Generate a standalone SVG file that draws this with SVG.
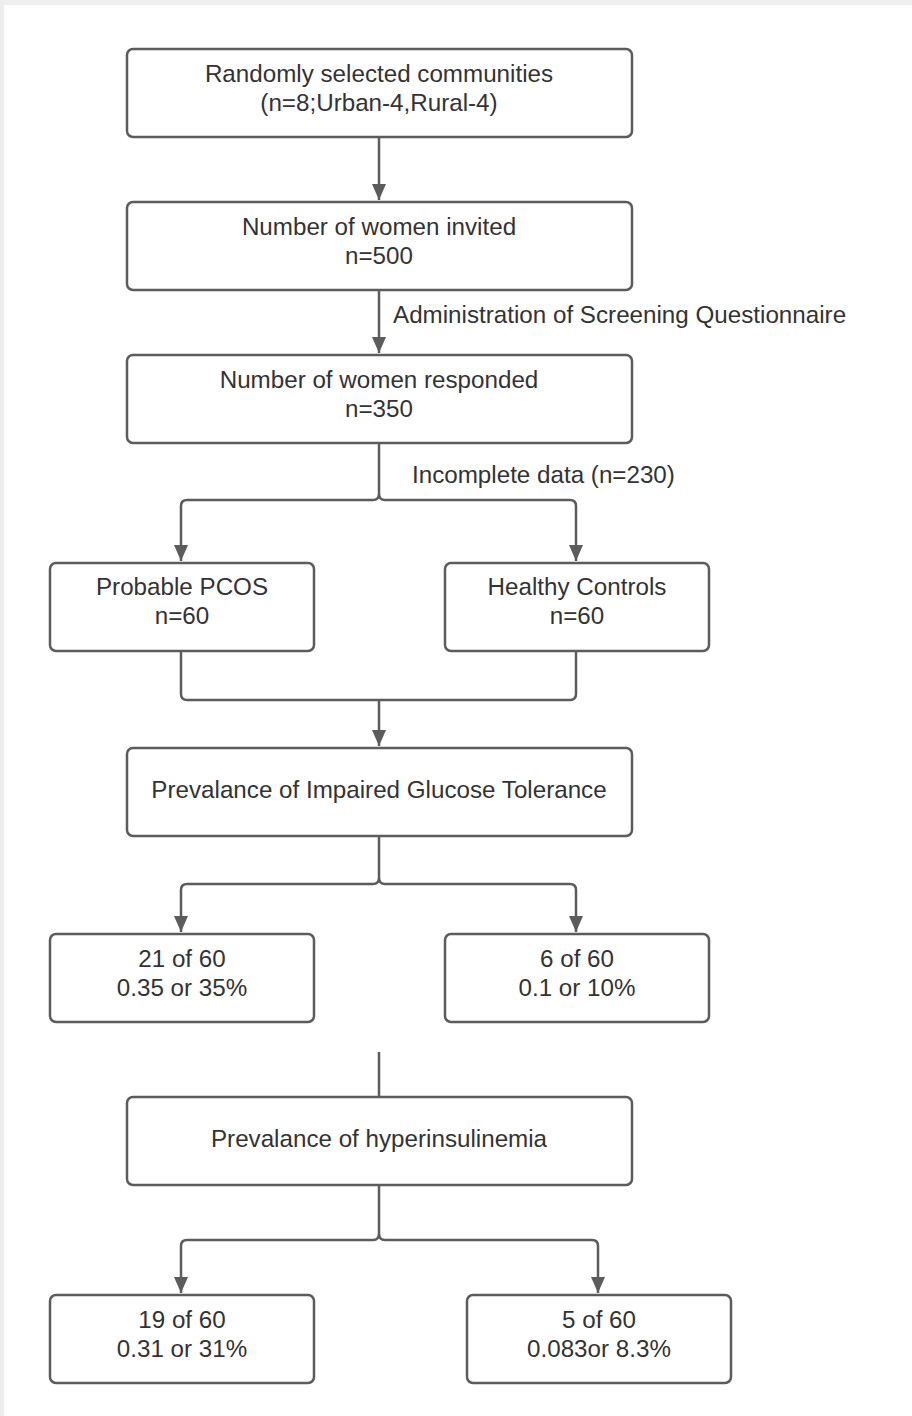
<svg xmlns="http://www.w3.org/2000/svg" width="912" height="1416" viewBox="0 0 912 1416">
<style>
.box{fill:#fff;stroke:#5c5c5c;stroke-width:2.5}
.t{font-family:"Liberation Sans",Arial,sans-serif;font-size:24.2px;fill:#333;text-anchor:middle}
.l{font-family:"Liberation Sans",Arial,sans-serif;font-size:24.2px;fill:#333}
.c{fill:none;stroke:#5c5c5c;stroke-width:2.5}
</style>
<defs>
<marker id="arr" viewBox="0 0 16 14" refX="16" refY="7" markerWidth="16" markerHeight="14" markerUnits="userSpaceOnUse" orient="auto">
<path d="M0,0 L16,7 L0,14 Z" fill="#5c5c5c"/>
</marker>
</defs>
<rect x="0" y="0" width="912" height="1416" fill="#eeeeee"/>
<rect x="4" y="5" width="908" height="1411" fill="#ffffff"/>
<g id="connectors">
<path class="c" d="M379,137 V200" marker-end="url(#arr)"/>
<path class="c" d="M379,290 V353" marker-end="url(#arr)"/>
<path class="c" d="M379,443 V494 Q379,500 373,500 H187 Q181,500 181,506 V561" marker-end="url(#arr)"/>
<path class="c" d="M379,494 Q379,500 385,500 H570 Q576,500 576,506 V561" marker-end="url(#arr)"/>
<path class="c" d="M181,651 V694 Q181,700 187,700 H570 Q576,700 576,694 V651"/>
<path class="c" d="M379,700 V746" marker-end="url(#arr)"/>
<path class="c" d="M379,836 V878 Q379,884 373,884 H187 Q181,884 181,890 V932" marker-end="url(#arr)"/>
<path class="c" d="M379,878 Q379,884 385,884 H570 Q576,884 576,890 V932" marker-end="url(#arr)"/>
<path class="c" d="M379,1052 V1097"/>
<path class="c" d="M379,1185 V1234 Q379,1240 373,1240 H187 Q181,1240 181,1246 V1293" marker-end="url(#arr)"/>
<path class="c" d="M379,1234 Q379,1240 385,1240 H592 Q598,1240 598,1246 V1293" marker-end="url(#arr)"/>
<text class="l" x="393" y="323">Administration of Screening Questionnaire</text>
<text class="l" x="412" y="483">Incomplete data (n=230)</text>
</g>
<g id="n1"><rect class="box" x="127" y="49" width="505" height="88" rx="6"/><text class="t" x="379" y="82">Randomly selected communities</text><text class="t" x="379" y="111">(n=8;Urban-4,Rural-4)</text></g>
<g id="n2"><rect class="box" x="127" y="202" width="505" height="88" rx="6"/><text class="t" x="379" y="235">Number of women invited</text><text class="t" x="379" y="264">n=500</text></g>
<g id="n3"><rect class="box" x="127" y="355" width="505" height="88" rx="6"/><text class="t" x="379" y="388">Number of women responded</text><text class="t" x="379" y="417">n=350</text></g>
<g id="n4"><rect class="box" x="50" y="563" width="264" height="88" rx="6"/><text class="t" x="182" y="595">Probable PCOS</text><text class="t" x="182" y="624">n=60</text></g>
<g id="n5"><rect class="box" x="445" y="563" width="264" height="88" rx="6"/><text class="t" x="577" y="595">Healthy Controls</text><text class="t" x="577" y="624">n=60</text></g>
<g id="n6"><rect class="box" x="127" y="748" width="505" height="88" rx="6"/><text class="t" x="379" y="798">Prevalance of Impaired Glucose Tolerance</text></g>
<g id="n7"><rect class="box" x="50" y="934" width="264" height="88" rx="6"/><text class="t" x="182" y="967">21 of 60</text><text class="t" x="182" y="996">0.35 or 35%</text></g>
<g id="n8"><rect class="box" x="445" y="934" width="264" height="88" rx="6"/><text class="t" x="577" y="967">6 of 60</text><text class="t" x="577" y="996">0.1 or 10%</text></g>
<g id="n9"><rect class="box" x="127" y="1097" width="505" height="88" rx="6"/><text class="t" x="379" y="1147">Prevalance of hyperinsulinemia</text></g>
<g id="n10"><rect class="box" x="50" y="1295" width="264" height="88" rx="6"/><text class="t" x="182" y="1328">19 of 60</text><text class="t" x="182" y="1357">0.31 or 31%</text></g>
<g id="n11"><rect class="box" x="467" y="1295" width="264" height="88" rx="6"/><text class="t" x="599" y="1328">5 of 60</text><text class="t" x="599" y="1357">0.083or 8.3%</text></g>
</svg>
